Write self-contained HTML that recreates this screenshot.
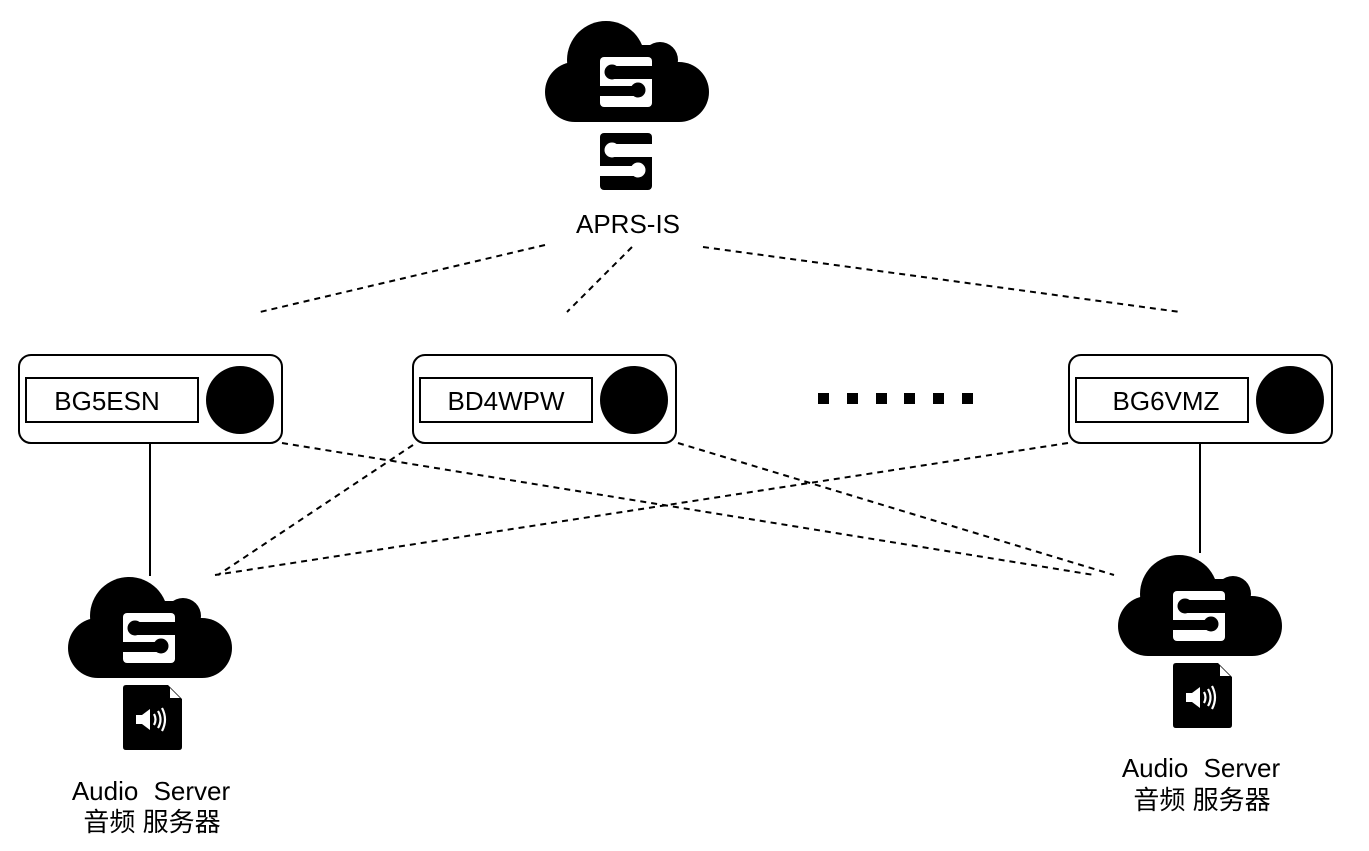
<!DOCTYPE html>
<html><head><meta charset="utf-8"><style>
body{margin:0;background:#fff}
svg{display:block}
text{font-family:"Liberation Sans","Noto Sans CJK SC",sans-serif;fill:#000}
</style></head><body>
<svg width="1369" height="851" viewBox="0 0 1369 851" xmlns="http://www.w3.org/2000/svg">
<defs>
<g id="cloud">
<circle cx="61" cy="40" r="39"/>
<circle cx="115" cy="40" r="18"/>
<rect x="55" y="25" width="70" height="40"/>
<rect x="0" y="42" width="164" height="60" rx="30"/>
<g transform="translate(55,37)">
<rect x="0" y="0" width="52" height="50" rx="4" fill="#fff"/>
<rect x="12" y="9" width="40" height="13" fill="#000"/>
<circle cx="12" cy="15" r="7.5" fill="#000"/>
<rect x="0" y="29" width="38" height="10" fill="#000"/>
<circle cx="38" cy="33" r="7.5" fill="#000"/>
</g>
</g>
<g id="file">
<path d="M0 3 Q0 0 3 0 H45 L59 14 V62 Q59 65 56 65 H3 Q0 65 0 62 Z"/>
<path d="M47 3 V13 H57 Z" fill="#fff"/>
<rect x="13" y="30" width="6" height="9" fill="#fff"/>
<path d="M19 30 L27 24 V45 L19 39 Z" fill="#fff"/>
<path d="M31 29 Q34 34.5 31 40 M35 26 Q40 34.5 35 43 M39 23 Q45 34.5 39 46" fill="none" stroke="#fff" stroke-width="2.2"/>
</g>
<g id="node">
<rect x="0" y="0" width="263" height="88" rx="12" fill="#fff" stroke="#000" stroke-width="2"/>
<rect x="7" y="23" width="172" height="44" fill="#fff" stroke="#000" stroke-width="2"/>
<circle cx="221" cy="45" r="34"/>
</g>
</defs>

<g stroke="#000" stroke-width="2" stroke-dasharray="6,5" fill="none">
<line x1="545" y1="245" x2="260" y2="312"/>
<line x1="632" y1="247" x2="567" y2="312"/>
<line x1="703" y1="247" x2="1180" y2="312"/>
<line x1="282" y1="443" x2="1094" y2="575"/>
<line x1="678" y1="443" x2="1114" y2="575"/>
<line x1="413" y1="445" x2="218" y2="575"/>
<line x1="1068" y1="443" x2="215" y2="575"/>
</g>
<g stroke="#000" stroke-width="2">
<line x1="150" y1="443" x2="150" y2="576"/>
<line x1="1200" y1="443" x2="1200" y2="553"/>
</g>

<use href="#cloud" x="545" y="20"/>
<g transform="translate(600,133)">
<rect x="0" y="0" width="52" height="57" rx="4"/>
<rect x="12" y="11" width="40" height="13" fill="#fff"/>
<circle cx="12" cy="17" r="7.5" fill="#fff"/>
<rect x="0" y="33" width="38" height="10" fill="#fff"/>
<circle cx="38" cy="37" r="7.5" fill="#fff"/>
</g>
<text x="628" y="233" font-size="26" text-anchor="middle">APRS-IS</text>

<use href="#node" x="19" y="355"/>
<use href="#node" x="413" y="355"/>
<use href="#node" x="1069" y="355"/>
<text x="107" y="410" font-size="26" text-anchor="middle">BG5ESN</text>
<text x="506" y="410" font-size="26" text-anchor="middle">BD4WPW</text>
<text x="1166" y="410" font-size="26" text-anchor="middle">BG6VMZ</text>

<g>
<rect x="818" y="393" width="11" height="11"/>
<rect x="847" y="393" width="11" height="11"/>
<rect x="876" y="393" width="11" height="11"/>
<rect x="904" y="393" width="11" height="11"/>
<rect x="933" y="393" width="11" height="11"/>
<rect x="962" y="393" width="11" height="11"/>
</g>

<use href="#cloud" x="68" y="576"/>
<use href="#file" x="123" y="685"/>
<text x="151" y="800" font-size="26" text-anchor="middle" word-spacing="8">Audio Server</text>
<text x="152" y="831" font-size="26" text-anchor="middle">音频 服务器</text>

<use href="#cloud" x="1118" y="554"/>
<use href="#file" x="1173" y="663"/>
<text x="1201" y="777" font-size="26" text-anchor="middle" word-spacing="8">Audio Server</text>
<text x="1202" y="809" font-size="26" text-anchor="middle">音频 服务器</text>
</svg>
</body></html>
